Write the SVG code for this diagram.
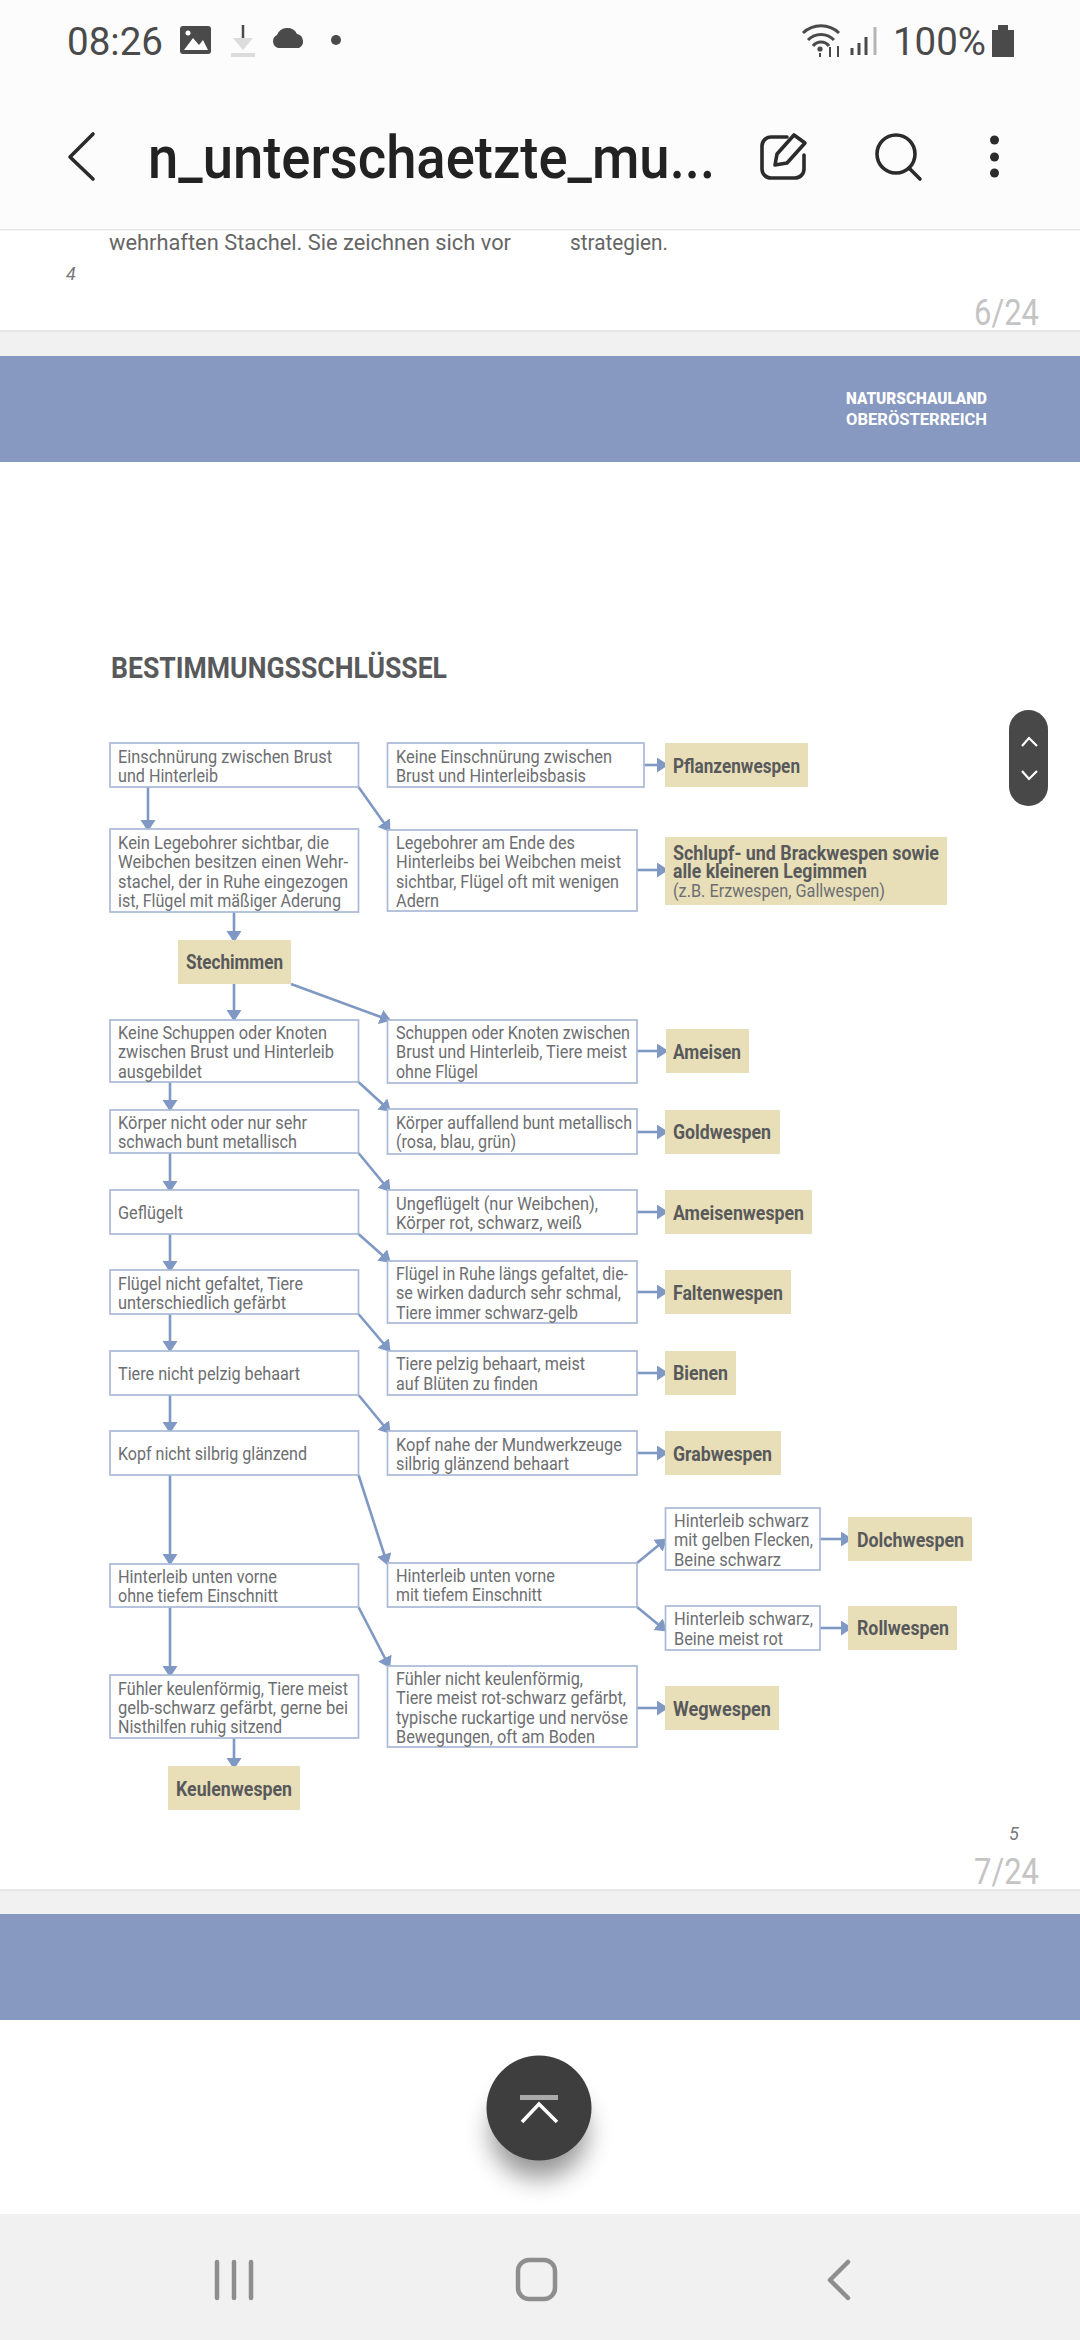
<svg xmlns="http://www.w3.org/2000/svg" width="1080" height="2340" viewBox="0 0 1080 2340">
<style>
text{font-family:"Roboto","Liberation Sans",sans-serif}
.t{font-size:18px;fill:#6d6e71}
.b{font-size:19.5px;font-weight:700;fill:#58595b}
.box{fill:#fff;stroke:#a9b9d6;stroke-width:1.7}
.res{fill:#e8dfb9}
.c{fill:none;stroke:#7f98c4;stroke-width:2.6}
.ic{fill:#4a4a4a}
.ln{fill:none;stroke:#2b2b2b;stroke-width:3.6;stroke-linecap:round;stroke-linejoin:round}
.nav{fill:none;stroke:#8e8e8e;stroke-width:4.5;stroke-linecap:round;stroke-linejoin:round}
.pg{font-size:36px;fill:#c4c4c4}
</style>
<defs>
<marker id="ah" markerUnits="userSpaceOnUse" markerWidth="14" markerHeight="16" refX="9" refY="7.5" orient="auto"><path d="M0,0 L11.5,7.5 L0,15 Z" fill="#7f98c4"/></marker>
<filter id="sh" x="-60%" y="-60%" width="220%" height="240%"><feGaussianBlur stdDeviation="13"/></filter>
</defs>
<rect width="1080" height="2340" fill="#fff"/>
<g id="statusbar">
<rect width="1080" height="229" fill="#fcfcfc"/>
<rect y="229" width="1080" height="1.5" fill="#e8e8e8"/>
<text x="67" y="55" font-size="38" fill="#4a4a4a" textLength="96" lengthAdjust="spacingAndGlyphs">08:26</text>
<rect x="180" y="26" width="31" height="28" rx="3" class="ic"/>
<path d="M184,50 L193,38 L199,45 L203,40 L208,50 Z" fill="#fff"/><circle cx="188" cy="33" r="2.5" fill="#fff"/>
<path d="M243,25 V44" stroke="#4a4a4a" stroke-width="2.5"/><path d="M233,38 H253 L243,50 Z" fill="#dcdcdc"/><rect x="231" y="53" width="24" height="4" fill="#dcdcdc"/>
<path d="M278,48 a7,7 0 0 1 -1,-13 a11,11 0 0 1 20,-1 a7.5,7.5 0 0 1 2,14 Z" class="ic"/>
<circle cx="336" cy="40" r="5" class="ic"/>
<path d="M803,33 a26,26 0 0 1 36,0 M808,40 a18,18 0 0 1 26,0 M813,46 a10,10 0 0 1 16,0" fill="none" stroke="#4a4a4a" stroke-width="3"/><circle cx="820" cy="49" r="2.6" class="ic"/>
<path d="M820,53 V57 M830,47 V57 M838,57 V46" stroke="#4a4a4a" stroke-width="2"/>
<path d="M852,48 V55 M859,43 V55 M866,37 V55" stroke="#4a4a4a" stroke-width="3"/><path d="M875,27 V55" stroke="#b5b5b5" stroke-width="3"/>
<text x="893" y="55" font-size="38" fill="#4a4a4a" textLength="93" lengthAdjust="spacingAndGlyphs">100%</text>
<path d="M992,30 h6 v-5 h10 v5 h6 v27 h-22 Z" class="ic"/>
</g>
<g id="toolbar">
<path d="M93,134 L70,157 L93,179" class="ln"/>
<text x="148" y="178" font-size="60" font-weight="500" fill="#222" textLength="567" lengthAdjust="spacingAndGlyphs">n_unterschaetzte_mu...</text>
<path d="M787,137 H771 a9,9 0 0 0 -9,9 V169 a9,9 0 0 0 9,9 H795 a9,9 0 0 0 9,-9 V155" class="ln"/>
<path d="M775,165 L777,154 L794,135 L805,143 L787,163 Z" class="ln"/>
<circle cx="896" cy="154" r="19" class="ln"/><path d="M909,168 L920,179" class="ln"/>
<circle cx="994.5" cy="140" r="4.5" fill="#2b2b2b"/><circle cx="994.5" cy="157" r="4.5" fill="#2b2b2b"/><circle cx="994.5" cy="173" r="4.5" fill="#2b2b2b"/>
</g>
<g id="page6">
<text x="109" y="250" font-size="22" fill="#666" textLength="402" lengthAdjust="spacingAndGlyphs">wehrhaften Stachel. Sie zeichnen sich vor</text>
<text x="570" y="250" font-size="22" fill="#666" textLength="98" lengthAdjust="spacingAndGlyphs">strategien.</text>
<text x="66" y="280" font-size="18" font-style="italic" fill="#777">4</text>
<text x="974" y="325" class="pg" textLength="65" lengthAdjust="spacingAndGlyphs">6/24</text>
<rect y="330" width="1080" height="26" fill="#f1f1f1"/><rect y="330" width="1080" height="2" fill="#e6e6e6"/>
</g>
<g id="banner">
<rect y="356" width="1080" height="106" fill="#8799c0"/>
<text x="846" y="404" font-size="16" font-weight="900" fill="#fff" textLength="141" lengthAdjust="spacingAndGlyphs">NATURSCHAULAND</text>
<text x="846" y="425" font-size="16" font-weight="700" fill="#fff" textLength="141" lengthAdjust="spacingAndGlyphs">OBERÖSTERREICH</text>
</g>
<text id="title" x="111" y="678" font-size="29" font-weight="700" fill="#58595b" textLength="336" lengthAdjust="spacingAndGlyphs">BESTIMMUNGSSCHLÜSSEL</text>
<g id="connectors">
<path class="c" marker-end="url(#ah)" d="M148,787 V829"/>
<path class="c" marker-end="url(#ah)" d="M358.5,787 L389,830"/>
<path class="c" marker-end="url(#ah)" d="M644,765 H666"/>
<path class="c" marker-end="url(#ah)" d="M234,912 V940"/>
<path class="c" marker-end="url(#ah)" d="M637,870 H666"/>
<path class="c" marker-end="url(#ah)" d="M234,984 V1019"/>
<path class="c" marker-end="url(#ah)" d="M291,984 L389,1020"/>
<path class="c" marker-end="url(#ah)" d="M637,1051 H666"/>
<path class="c" marker-end="url(#ah)" d="M170,1082 V1109"/>
<path class="c" marker-end="url(#ah)" d="M358.5,1082 L389,1110"/>
<path class="c" marker-end="url(#ah)" d="M637,1132 H666"/>
<path class="c" marker-end="url(#ah)" d="M170,1153 V1190"/>
<path class="c" marker-end="url(#ah)" d="M358.5,1153 L389,1190"/>
<path class="c" marker-end="url(#ah)" d="M637,1212 H666"/>
<path class="c" marker-end="url(#ah)" d="M170,1234 V1270"/>
<path class="c" marker-end="url(#ah)" d="M358.5,1234 L389,1261"/>
<path class="c" marker-end="url(#ah)" d="M637,1292 H666"/>
<path class="c" marker-end="url(#ah)" d="M170,1314 V1350"/>
<path class="c" marker-end="url(#ah)" d="M358.5,1314 L389,1350"/>
<path class="c" marker-end="url(#ah)" d="M637,1373 H666"/>
<path class="c" marker-end="url(#ah)" d="M170,1395 V1431"/>
<path class="c" marker-end="url(#ah)" d="M358.5,1395 L389,1432"/>
<path class="c" marker-end="url(#ah)" d="M637,1453 H666"/>
<path class="c" marker-end="url(#ah)" d="M170,1475 V1563"/>
<path class="c" marker-end="url(#ah)" d="M358.5,1475 L387,1563"/>
<path class="c" marker-end="url(#ah)" d="M170,1607 V1675"/>
<path class="c" marker-end="url(#ah)" d="M358.5,1607 L389,1666"/>
<path class="c" marker-end="url(#ah)" d="M637,1708 H666"/>
<path class="c" marker-end="url(#ah)" d="M234,1738 V1767"/>
<path class="c" marker-end="url(#ah)" d="M637,1563 L665,1540"/>
<path class="c" marker-end="url(#ah)" d="M637,1607 L665,1630"/>
<path class="c" marker-end="url(#ah)" d="M820,1539 H850"/>
<path class="c" marker-end="url(#ah)" d="M820,1628 H850"/>
</g>
<g id="n1"><rect class="box" x="110" y="743" width="248.5" height="44"/><text class="t" x="118" y="763" textLength="214" lengthAdjust="spacingAndGlyphs">Einschnürung zwischen Brust</text><text class="t" x="118" y="782" textLength="100" lengthAdjust="spacingAndGlyphs">und Hinterleib</text></g>
<g id="n2"><rect class="box" x="387.5" y="743" width="256.5" height="44"/><text class="t" x="396" y="763" textLength="216" lengthAdjust="spacingAndGlyphs">Keine Einschnürung zwischen</text><text class="t" x="396" y="782" textLength="190" lengthAdjust="spacingAndGlyphs">Brust und Hinterleibsbasis</text></g>
<g id="r1"><rect class="res" x="665" y="743" width="143" height="44"/><text class="b" x="673" y="773" textLength="127" lengthAdjust="spacingAndGlyphs">Pflanzenwespen</text></g>
<g id="n3"><rect class="box" x="110" y="829" width="248.5" height="83"/><text class="t" x="118" y="849" textLength="211" lengthAdjust="spacingAndGlyphs">Kein Legebohrer sichtbar, die</text><text class="t" x="118" y="868" textLength="230" lengthAdjust="spacingAndGlyphs">Weibchen besitzen einen Wehr-</text><text class="t" x="118" y="888" textLength="230" lengthAdjust="spacingAndGlyphs">stachel, der in Ruhe eingezogen</text><text class="t" x="118" y="907" textLength="223" lengthAdjust="spacingAndGlyphs">ist, Flügel mit mäßiger Aderung</text></g>
<g id="n4"><rect class="box" x="387.5" y="830" width="249.5" height="81"/><text class="t" x="396" y="849" textLength="179" lengthAdjust="spacingAndGlyphs">Legebohrer am Ende des</text><text class="t" x="396" y="868" textLength="225" lengthAdjust="spacingAndGlyphs">Hinterleibs bei Weibchen meist</text><text class="t" x="396" y="888" textLength="223" lengthAdjust="spacingAndGlyphs">sichtbar, Flügel oft mit wenigen</text><text class="t" x="396" y="907" textLength="43" lengthAdjust="spacingAndGlyphs">Adern</text></g>
<g id="r2"><rect class="res" x="665" y="837" width="282" height="68"/><text class="b" x="673" y="860" textLength="266" lengthAdjust="spacingAndGlyphs">Schlupf- und Brackwespen sowie</text><text class="b" x="673" y="878" textLength="194" lengthAdjust="spacingAndGlyphs">alle kleineren Legimmen</text><text class="t" x="673" y="897" textLength="212" lengthAdjust="spacingAndGlyphs">(z.B. Erzwespen, Gallwespen)</text></g>
<g id="r3"><rect class="res" x="178" y="940" width="113" height="44"/><text class="b" x="186" y="969" textLength="97" lengthAdjust="spacingAndGlyphs">Stechimmen</text></g>
<g id="n5"><rect class="box" x="110" y="1020" width="248.5" height="62"/><text class="t" x="118" y="1039" textLength="209" lengthAdjust="spacingAndGlyphs">Keine Schuppen oder Knoten</text><text class="t" x="118" y="1058" textLength="216" lengthAdjust="spacingAndGlyphs">zwischen Brust und Hinterleib</text><text class="t" x="118" y="1078" textLength="84" lengthAdjust="spacingAndGlyphs">ausgebildet</text></g>
<g id="n6"><rect class="box" x="387.5" y="1020" width="249.5" height="63"/><text class="t" x="396" y="1039" textLength="234" lengthAdjust="spacingAndGlyphs">Schuppen oder Knoten zwischen</text><text class="t" x="396" y="1058" textLength="231" lengthAdjust="spacingAndGlyphs">Brust und Hinterleib, Tiere meist</text><text class="t" x="396" y="1078" textLength="82" lengthAdjust="spacingAndGlyphs">ohne Flügel</text></g>
<g id="r4"><rect class="res" x="666" y="1029" width="83" height="44"/><text class="b" x="673" y="1059" textLength="68" lengthAdjust="spacingAndGlyphs">Ameisen</text></g>
<g id="n7"><rect class="box" x="110" y="1110" width="248.5" height="43"/><text class="t" x="118" y="1129" textLength="189" lengthAdjust="spacingAndGlyphs">Körper nicht oder nur sehr</text><text class="t" x="118" y="1148" textLength="179" lengthAdjust="spacingAndGlyphs">schwach bunt metallisch</text></g>
<g id="n8"><rect class="box" x="387.5" y="1109" width="249.5" height="45"/><text class="t" x="396" y="1129" textLength="236" lengthAdjust="spacingAndGlyphs">Körper auffallend bunt metallisch</text><text class="t" x="396" y="1148" textLength="120" lengthAdjust="spacingAndGlyphs">(rosa, blau, grün)</text></g>
<g id="r5"><rect class="res" x="665" y="1110" width="115" height="44"/><text class="b" x="673" y="1139" textLength="98" lengthAdjust="spacingAndGlyphs">Goldwespen</text></g>
<g id="n9"><rect class="box" x="110" y="1190" width="248.5" height="44"/><text class="t" x="118" y="1219" textLength="65" lengthAdjust="spacingAndGlyphs">Geflügelt</text></g>
<g id="n10"><rect class="box" x="387.5" y="1190" width="249.5" height="44"/><text class="t" x="396" y="1210" textLength="202" lengthAdjust="spacingAndGlyphs">Ungeflügelt (nur Weibchen),</text><text class="t" x="396" y="1229" textLength="186" lengthAdjust="spacingAndGlyphs">Körper rot, schwarz, weiß</text></g>
<g id="r6"><rect class="res" x="665" y="1190" width="147" height="44"/><text class="b" x="673" y="1220" textLength="131" lengthAdjust="spacingAndGlyphs">Ameisenwespen</text></g>
<g id="n11"><rect class="box" x="110" y="1270" width="248.5" height="44"/><text class="t" x="118" y="1290" textLength="185" lengthAdjust="spacingAndGlyphs">Flügel nicht gefaltet, Tiere</text><text class="t" x="118" y="1309" textLength="168" lengthAdjust="spacingAndGlyphs">unterschiedlich gefärbt</text></g>
<g id="n12"><rect class="box" x="387.5" y="1261" width="249.5" height="62"/><text class="t" x="396" y="1280" textLength="232" lengthAdjust="spacingAndGlyphs">Flügel in Ruhe längs gefaltet, die-</text><text class="t" x="396" y="1299" textLength="225" lengthAdjust="spacingAndGlyphs">se wirken dadurch sehr schmal,</text><text class="t" x="396" y="1319" textLength="182" lengthAdjust="spacingAndGlyphs">Tiere immer schwarz-gelb</text></g>
<g id="r7"><rect class="res" x="665" y="1270" width="126" height="44"/><text class="b" x="673" y="1300" textLength="110" lengthAdjust="spacingAndGlyphs">Faltenwespen</text></g>
<g id="n13"><rect class="box" x="110" y="1351" width="248.5" height="44"/><text class="t" x="118" y="1380" textLength="182" lengthAdjust="spacingAndGlyphs">Tiere nicht pelzig behaart</text></g>
<g id="n14"><rect class="box" x="387.5" y="1351" width="249.5" height="44"/><text class="t" x="396" y="1370" textLength="189" lengthAdjust="spacingAndGlyphs">Tiere pelzig behaart, meist</text><text class="t" x="396" y="1390" textLength="142" lengthAdjust="spacingAndGlyphs">auf Blüten zu finden</text></g>
<g id="r8"><rect class="res" x="665" y="1351" width="71" height="44"/><text class="b" x="673" y="1380" textLength="55" lengthAdjust="spacingAndGlyphs">Bienen</text></g>
<g id="n15"><rect class="box" x="110" y="1431" width="248.5" height="44"/><text class="t" x="118" y="1460" textLength="189" lengthAdjust="spacingAndGlyphs">Kopf nicht silbrig glänzend</text></g>
<g id="n16"><rect class="box" x="387.5" y="1431" width="249.5" height="44"/><text class="t" x="396" y="1451" textLength="226" lengthAdjust="spacingAndGlyphs">Kopf nahe der Mundwerkzeuge</text><text class="t" x="396" y="1470" textLength="173" lengthAdjust="spacingAndGlyphs">silbrig glänzend behaart</text></g>
<g id="r9"><rect class="res" x="665" y="1431" width="116" height="44"/><text class="b" x="673" y="1461" textLength="99" lengthAdjust="spacingAndGlyphs">Grabwespen</text></g>
<g id="n17"><rect class="box" x="110" y="1564" width="248.5" height="43"/><text class="t" x="118" y="1583" textLength="159" lengthAdjust="spacingAndGlyphs">Hinterleib unten vorne</text><text class="t" x="118" y="1602" textLength="160" lengthAdjust="spacingAndGlyphs">ohne tiefem Einschnitt</text></g>
<g id="n18"><rect class="box" x="387.5" y="1563" width="249.5" height="44"/><text class="t" x="396" y="1582" textLength="159" lengthAdjust="spacingAndGlyphs">Hinterleib unten vorne</text><text class="t" x="396" y="1601" textLength="146" lengthAdjust="spacingAndGlyphs">mit tiefem Einschnitt</text></g>
<g id="n19"><rect class="box" x="665.5" y="1508" width="154.5" height="62"/><text class="t" x="674" y="1527" textLength="135" lengthAdjust="spacingAndGlyphs">Hinterleib schwarz</text><text class="t" x="674" y="1546" textLength="139" lengthAdjust="spacingAndGlyphs">mit gelben Flecken,</text><text class="t" x="674" y="1566" textLength="107" lengthAdjust="spacingAndGlyphs">Beine schwarz</text></g>
<g id="r10"><rect class="res" x="848" y="1517" width="124" height="44"/><text class="b" x="857" y="1547" textLength="107" lengthAdjust="spacingAndGlyphs">Dolchwespen</text></g>
<g id="n20"><rect class="box" x="665.5" y="1606" width="154.5" height="44"/><text class="t" x="674" y="1625" textLength="139" lengthAdjust="spacingAndGlyphs">Hinterleib schwarz,</text><text class="t" x="674" y="1645" textLength="109" lengthAdjust="spacingAndGlyphs">Beine meist rot</text></g>
<g id="r11"><rect class="res" x="848" y="1606" width="109" height="44"/><text class="b" x="857" y="1635" textLength="92" lengthAdjust="spacingAndGlyphs">Rollwespen</text></g>
<g id="n21"><rect class="box" x="110" y="1675" width="248.5" height="63"/><text class="t" x="118" y="1695" textLength="230" lengthAdjust="spacingAndGlyphs">Fühler keulenförmig, Tiere meist</text><text class="t" x="118" y="1714" textLength="230" lengthAdjust="spacingAndGlyphs">gelb-schwarz gefärbt, gerne bei</text><text class="t" x="118" y="1733" textLength="164" lengthAdjust="spacingAndGlyphs">Nisthilfen ruhig sitzend</text></g>
<g id="n22"><rect class="box" x="387.5" y="1666" width="249.5" height="81"/><text class="t" x="396" y="1685" textLength="187" lengthAdjust="spacingAndGlyphs">Fühler nicht keulenförmig,</text><text class="t" x="396" y="1704" textLength="230" lengthAdjust="spacingAndGlyphs">Tiere meist rot-schwarz gefärbt,</text><text class="t" x="396" y="1724" textLength="232" lengthAdjust="spacingAndGlyphs">typische ruckartige und nervöse</text><text class="t" x="396" y="1743" textLength="199" lengthAdjust="spacingAndGlyphs">Bewegungen, oft am Boden</text></g>
<g id="r12"><rect class="res" x="665" y="1686" width="114" height="44"/><text class="b" x="673" y="1716" textLength="98" lengthAdjust="spacingAndGlyphs">Wegwespen</text></g>
<g id="r13"><rect class="res" x="168" y="1766" width="132" height="44"/><text class="b" x="176" y="1796" textLength="116" lengthAdjust="spacingAndGlyphs">Keulenwespen</text></g>
<g id="pill">
<rect x="1009" y="710" width="39" height="96" rx="19.5" fill="#484848"/>
<path d="M1022,746 L1029,738 L1037,746 M1022,771 L1029,779 L1037,771" fill="none" stroke="#fff" stroke-width="2.2"/>
</g>
<g id="page7">
<text x="1009" y="1840" font-size="18" font-style="italic" fill="#777">5</text>
<text x="974" y="1884" class="pg" textLength="65" lengthAdjust="spacingAndGlyphs">7/24</text>
<rect y="1889" width="1080" height="25" fill="#f1f1f1"/><rect y="1889" width="1080" height="2" fill="#e6e6e6"/>
<rect y="1914" width="1080" height="106" fill="#8799c0"/>
</g>
<g id="fab">
<ellipse cx="539" cy="2132" rx="48" ry="46" fill="#000" opacity=".42" filter="url(#sh)"/>
<circle cx="539" cy="2108" r="52.5" fill="#3e3e3e"/>
<rect x="520" y="2095" width="38" height="5" fill="#aaa"/>
<path d="M522,2122 L539,2104 L557,2122" fill="none" stroke="#fff" stroke-width="3.5"/>
</g>
<g id="navbar">
<rect y="2214" width="1080" height="126" fill="#f1f1f1"/>
<path class="nav" d="M217,2262 V2298 M234,2262 V2298 M251,2262 V2298"/>
<rect class="nav" x="518" y="2260" width="37" height="39" rx="11"/>
<path class="nav" d="M848,2262 L830,2280 L848,2298"/>
</g>
</svg>
